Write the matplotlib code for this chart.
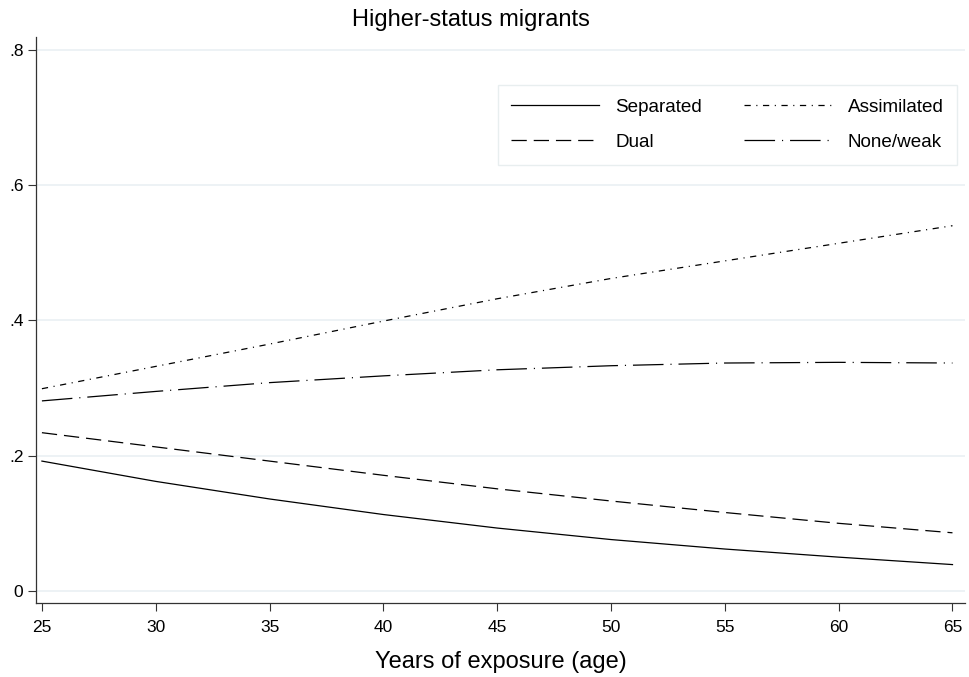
import matplotlib
matplotlib.use("Agg")
import matplotlib.pyplot as plt

plt.rcParams['font.family'] = ['Liberation Sans', 'DejaVu Sans']
plt.rcParams['lines.scale_dashes'] = False

years = [25, 30, 35, 40, 45, 50, 55, 60, 65]
separated = [0.192, 0.162, 0.136, 0.113, 0.093, 0.076, 0.062, 0.050, 0.039]
dual = [0.234, 0.213, 0.192, 0.171, 0.151, 0.133, 0.116, 0.100, 0.086]
assimilated = [0.299, 0.332, 0.365, 0.399, 0.432, 0.462, 0.488, 0.514, 0.540]
noneweak = [0.281, 0.295, 0.308, 0.318, 0.327, 0.333, 0.337, 0.338, 0.337]

xticks = [25, 30, 35, 40, 45, 50, 55, 60, 65]
yticks = [0, 0.2, 0.4, 0.6, 0.8]
ytick_labels = ['0', '.2', '.4', '.6', '.8']

W, H = 969, 677
fig = plt.figure(figsize=(W / 100, H / 100), dpi=100)
ax = fig.add_axes([36 / W, 1 - 603 / H, (965 - 36) / W, (603 - 37) / H])

lw = 0.9
ax.plot(years, separated, color='black', lw=lw, linestyle='-', label='Separated')
ax.plot(years, dual, color='black', lw=lw, linestyle=(0, (11, 5)), label='Dual')
ax.plot(years, assimilated, color='black', lw=lw, linestyle=(0, (4.5, 4, 0.8, 4)), label='Assimilated')
ax.plot(years, noneweak, color='black', lw=lw, linestyle=(0, (22, 5, 0.8, 5)), label='None/weak')

ax.set_xlim(24.74, 65.55)
ax.set_ylim(-0.0178, 0.819)
ax.set_xticks(xticks)
ax.set_xticklabels([str(x) for x in xticks], fontsize=12.5)
ax.set_yticks(yticks)
ax.set_yticklabels(ytick_labels, fontsize=12.5)
ax.tick_params(axis='both', direction='out', length=6, width=0.8, color='#333333')
ax.tick_params(axis='x', pad=6)
ax.tick_params(axis='y', pad=3)

ax.grid(axis='y', color='#eaf0f3', linewidth=1.2)
ax.set_axisbelow(True)
for s in ['top', 'right']:
    ax.spines[s].set_visible(False)
for s in ['left', 'bottom']:
    ax.spines[s].set_linewidth(0.9)
    ax.spines[s].set_color('#333333')

ax.set_xlabel('Years of exposure (age)', fontsize=17, labelpad=12)
fig.text(471 / W, 1 - 20 / H, 'Higher-status migrants', ha='center', va='center', fontsize=17)

leg = ax.legend(ncol=2, loc='upper right', bbox_to_anchor=(957 / W, 1 - 85 / H),
                bbox_transform=fig.transFigure, fontsize=13.6, frameon=True, fancybox=False,
                handlelength=4.65, handletextpad=0.85, columnspacing=2.2, labelspacing=0.95,
                borderpad=0.72, borderaxespad=0)
leg.get_frame().set_edgecolor('#e3eaec')
leg.get_frame().set_linewidth(1.0)

fig.savefig('out.png', dpi=100)
